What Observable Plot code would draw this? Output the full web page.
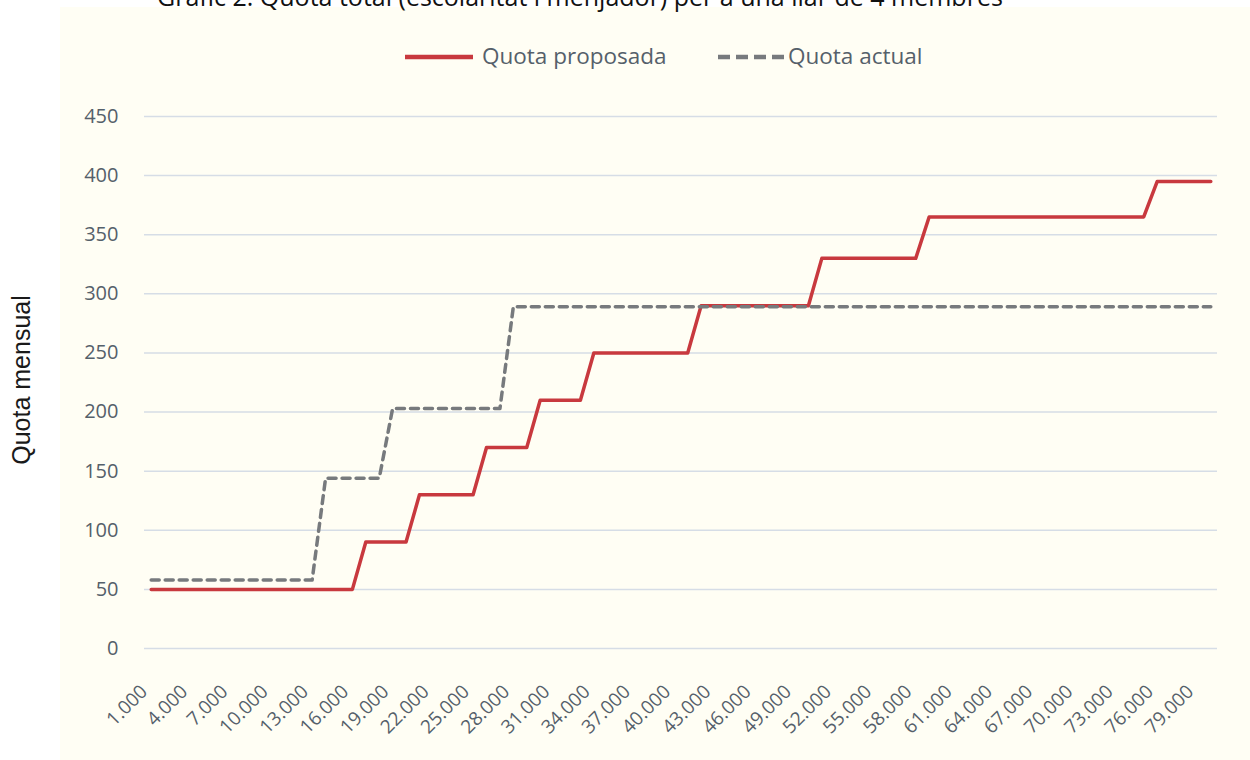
<!DOCTYPE html>
<html>
<head>
<meta charset="utf-8">
<script src="https://cdn.jsdelivr.net/npm/d3@7"></script>
<script src="https://cdn.jsdelivr.net/npm/@observablehq/plot@0.6"></script>
<style>
  body { margin: 0; background: #ffffff; }
  #wrap { position: relative; width: 1250px; height: 760px; overflow: hidden; font-family: "Open Sans", sans-serif; }
  #bg { position: absolute; left: 60px; top: 7px; right: 0; bottom: 0; background: #fffef4; }
  #title { position: absolute; left: 157px; top: -18px; font-size: 25px; line-height: 28px; color: #111; white-space: nowrap; }
  #chart { position: absolute; left: 0; top: 0; }
  .lg { position: absolute; top: 41px; font-size: 22.5px; line-height: 30px; color: #55606a; white-space: nowrap; }
  #ylab { position: absolute; left: 21px; top: 380px; transform: translate(-50%, -50%) rotate(-90deg); font-family: "Liberation Sans", Arial, sans-serif; font-size: 25px; color: #1a1a1a; white-space: nowrap; }
</style>
</head>
<body>
<div id="wrap">
  <div id="bg"></div>
  <div id="title">Gràfic 2. Quota total (escolaritat i menjador) per a una llar de 4 membres</div>
  <div id="chart"></div>
  <svg style="position:absolute;left:400px;top:48px" width="80" height="20"><line x1="5" x2="73" y1="9" y2="9" stroke="#c8393e" stroke-width="4.5"/></svg>
  <div class="lg" style="left:482px">Quota proposada</div>
  <svg style="position:absolute;left:712px;top:48px" width="80" height="20"><line x1="6" x2="74" y1="9" y2="9" stroke="#777a7d" stroke-width="4.5" stroke-dasharray="12,6"/></svg>
  <div class="lg" style="left:788px">Quota actual</div>
  <div id="ylab">Quota mensual</div>
</div>
<script>
const income = [1000,2000,3000,4000,5000,6000,7000,8000,9000,10000,
  11000,12000,13000,14000,15000,16000,17000,18000,19000,20000,
  21000,22000,23000,24000,25000,26000,27000,28000,29000,30000,
  31000,32000,33000,34000,35000,36000,37000,38000,39000,40000,
  41000,42000,43000,44000,45000,46000,47000,48000,49000,50000,
  51000,52000,53000,54000,55000,56000,57000,58000,59000,60000,
  61000,62000,63000,64000,65000,66000,67000,68000,69000,70000,
  71000,72000,73000,74000,75000,76000,77000,78000,79000,80000];

const quotaProposada = [50,50,50,50,50,50,50,50,50,50,
  50,50,50,50,50,50,90,90,90,90,
  130,130,130,130,130,170,170,170,170,210,
  210,210,210,250,250,250,250,250,250,250,
  250,290,290,290,290,290,290,290,290,290,
  330,330,330,330,330,330,330,330,365,365,
  365,365,365,365,365,365,365,365,365,365,
  365,365,365,365,365,395,395,395,395,395];

const quotaActual = [58,58,58,58,58,58,58,58,58,58,
  58,58,58,144,144,144,144,144,203,203,
  203,203,203,203,203,203,203,289,289,289,
  289,289,289,289,289,289,289,289,289,289,
  289,289,289,289,289,289,289,289,289,289,
  289,289,289,289,289,289,289,289,289,289,
  289,289,289,289,289,289,289,289,289,289,
  289,289,289,289,289,289,289,289,289,289];

const xTickLabels = [1000,4000,7000,10000,13000,16000,19000,22000,25000,28000,
  31000,34000,37000,40000,43000,46000,49000,52000,55000,58000,
  61000,64000,67000,70000,73000,76000,79000];
const yTicks = [0,50,100,150,200,250,300,350,400,450];

const rows = income.map((v, i) => ({income: v, proposada: quotaProposada[i], actual: quotaActual[i]}));
const fmt = d => d3.format(",")(d).replace(/,/g, ".");

const chart = Plot.plot({
  width: 1250,
  height: 760,
  marginLeft: 144,
  marginRight: 33,
  marginTop: 116,
  marginBottom: 112,
  style: {background: "transparent", fontFamily: "Open Sans, sans-serif", fontSize: "19px", color: "#55606a"},
  x: {type: "linear", domain: [500, 80500], label: null},
  y: {domain: [0, 450], label: null},
  marks: [
    Plot.ruleY(yTicks, {stroke: "#d6dde6", strokeWidth: 1.5}),
    Plot.axisY({ticks: yTicks, tickSize: 0, tickPadding: 26, fontSize: 20, label: null}),
    Plot.axisX({ticks: xTickLabels, tickFormat: fmt, tickRotate: -45, tickSize: 0, tickPadding: 40, dx: -7, fontSize: 19, label: null}),
    Plot.line(rows, {x: "income", y: "proposada", stroke: "#c8393e", strokeWidth: 3.5}),
    Plot.line(rows, {x: "income", y: "actual", stroke: "#777a7d", strokeWidth: 3.5, strokeDasharray: "8,6"})
  ]
});
document.getElementById("chart").appendChild(chart);
</script>
</body>
</html>
